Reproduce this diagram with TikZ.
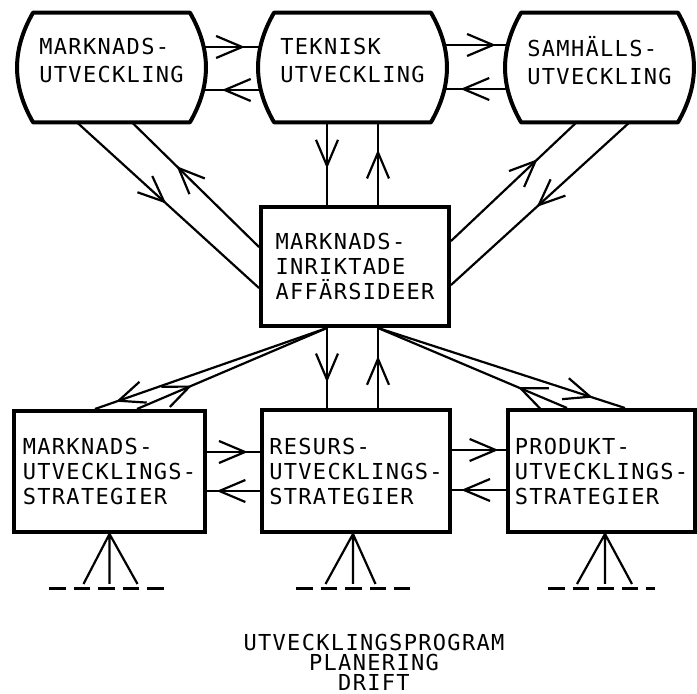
\documentclass[tikz,border=0pt]{standalone}
\usepackage{fontspec}
\newfontfamily\boxfont{DejaVu Sans Mono}[LetterSpace=6]
\usetikzlibrary{arrows.meta,decorations.markings}

\tikzset{
  barrel/.style={rectangle,inner sep=0pt,align=left,minimum width=78pt,minimum height=54.5pt,
    text depth=7pt,font=\boxfont\fontsize{11}{14}\selectfont},
  rim/.style={line width=2pt,line join=round},
  block/.style={rectangle,draw,line width=2pt,inner sep=0pt,align=left,
    font=\boxfont\fontsize{11}{12.5}\selectfont},
  link/.style={line width=1.1pt},
  mid arrow/.style={link,postaction={decorate,decoration={markings,
    mark=at position #1 with {\arrow{Straight Barb[length=13pt,width=11pt]}}}}},
  dashline/.style={line width=1.5pt,dash pattern=on 8.3pt off 4pt},
}

\begin{document}
\begin{tikzpicture}[x=0.5pt,y=-0.5pt]
    \useasboundingbox (0,0) rectangle (697,694);

    \node[barrel] (mu) at (111.5,67.5) {MARKNADS-\\UTVECKLING};
    \node[barrel] (tu) at (352.5,67.5) {TEKNISK\\UTVECKLING};
    \node[barrel] (su) at (599.5,67.5) {SAMHÄLLS-\\UTVECKLING};
    \draw[rim] (mu.north west) -- (mu.north east) to[bend left=30] (mu.south east) -- (mu.south west) to[bend left=30] cycle;
    \draw[rim] (tu.north west) -- (tu.north east) to[bend left=30] (tu.south east) -- (tu.south west) to[bend left=30] cycle;
    \draw[rim] (su.north west) -- (su.north east) to[bend left=30] (su.south east) -- (su.south west) to[bend left=30] cycle;
    \node[block,minimum width=94pt,minimum height=59.5pt] (idea) at (355,266.5) {MARKNADS-\\INRIKTADE\\AFFÄRSIDEER};
    \node[block,minimum width=95.5pt,minimum height=60.5pt] (mstrat) at (109.5,471.5) {MARKNADS-\\UTVECKLINGS-\\STRATEGIER};
    \node[block,minimum width=94pt,minimum height=61pt] (rstrat) at (356,471) {RESURS-\\UTVECKLINGS-\\STRATEGIER};
    \node[block,minimum width=93.5pt,minimum height=61pt] (pstrat) at (601.5,471) {PRODUKT-\\UTVECKLINGS-\\STRATEGIER};
    \node[align=center,font=\boxfont\fontsize{11}{10}\selectfont] (plan) at (374,662) {UTVECKLINGSPROGRAM\\PLANERING\\DRIFT};

    \draw[mid arrow=0.73] ([xshift=7pt,yshift=10.25pt]mu.east) -- ([xshift=-7pt,yshift=10.25pt]tu.west);
    \draw[mid arrow=0.68] ([xshift=-7pt,yshift=-11.25pt]tu.west) -- ([xshift=7pt,yshift=-11.25pt]mu.east);
    \draw[mid arrow=0.82] ([xshift=7pt,yshift=11.25pt]tu.east) -- ([xshift=-7pt,yshift=11.25pt]su.west);
    \draw[mid arrow=0.75] ([xshift=-7pt,yshift=-10.75pt]su.west) -- ([xshift=7pt,yshift=-10.75pt]tu.east);

    \draw[mid arrow=0.56] ([xshift=-14pt]idea.north |- tu.south) -- ([xshift=-14pt]idea.north);
    \draw[mid arrow=0.67] ([xshift=11.5pt]idea.north) -- ([xshift=11.5pt]idea.north |- tu.south);
    \draw[mid arrow=0.49] ([xshift=-17.25pt]mu.south) -- ([yshift=-10.75pt]idea.west);
    \draw[mid arrow=0.65] ([yshift=9.75pt]idea.west) -- ([xshift=10.25pt]mu.south);
    \draw[mid arrow=0.69] ([yshift=12.75pt]idea.east) -- ([xshift=-11.5pt]su.south);
    \draw[mid arrow=0.52] ([xshift=15pt]su.south) -- ([yshift=-9.25pt]idea.east);

    \draw[mid arrow=0.68] ([xshift=-14pt]idea.south) -- ([xshift=-14pt]idea.south |- rstrat.north);
    \draw[mid arrow=0.65] ([xshift=11.5pt]idea.south |- rstrat.north) -- ([xshift=11.5pt]idea.south);
    \draw[mid arrow=0.91] ([xshift=-14pt]idea.south) -- ([xshift=-7.25pt]mstrat.north);
    \draw[mid arrow=0.29] ([xshift=13.75pt]mstrat.north) -- ([xshift=-14pt]idea.south);
    \draw[mid arrow=0.26] ([xshift=-17.25pt]pstrat.north) -- ([xshift=11.5pt]idea.south);
    \draw[mid arrow=0.87] ([xshift=11.5pt]idea.south) -- ([xshift=11.75pt]pstrat.north);

    \draw[mid arrow=0.77] ([yshift=9.75pt]mstrat.east) -- ([yshift=9.75pt]mstrat.east -| rstrat.west);
    \draw[mid arrow=0.82] ([yshift=-9.75pt]mstrat.east -| rstrat.west) -- ([yshift=-9.75pt]mstrat.east);
    \draw[mid arrow=0.86] ([yshift=10.5pt]rstrat.east) -- ([yshift=10.5pt]rstrat.east -| pstrat.west);
    \draw[mid arrow=0.83] ([yshift=-9.5pt]rstrat.east -| pstrat.west) -- ([yshift=-9.5pt]rstrat.east);

    \draw[link] (mstrat.south) -- ++(-13pt,-25pt) (mstrat.south) -- ++(0pt,-25pt) (mstrat.south) -- ++(14pt,-25pt);
    \draw[link] ([xshift=-1.5pt]rstrat.south) -- ++(-13.75pt,-25pt) ([xshift=-1.5pt]rstrat.south) -- ++(0pt,-25pt) ([xshift=-1.5pt]rstrat.south) -- ++(11.25pt,-25pt);
    \draw[link] ([xshift=1.75pt]pstrat.south) -- ++(-14pt,-25pt) ([xshift=1.75pt]pstrat.south) -- ++(0pt,-25pt) ([xshift=1.75pt]pstrat.south) -- ++(13.5pt,-25pt);
    \draw[dashline] ([shift={(-30.25pt,-27.5pt)}]mstrat.south) -- ++(58pt,0pt);
    \draw[dashline] ([shift={(-30pt,-27.5pt)}]rstrat.south) -- ++(57pt,0pt);
    \draw[dashline] ([shift={(-26.75pt,-27.5pt)}]pstrat.south) -- ++(53.5pt,0pt);
\end{tikzpicture}
\end{document}
